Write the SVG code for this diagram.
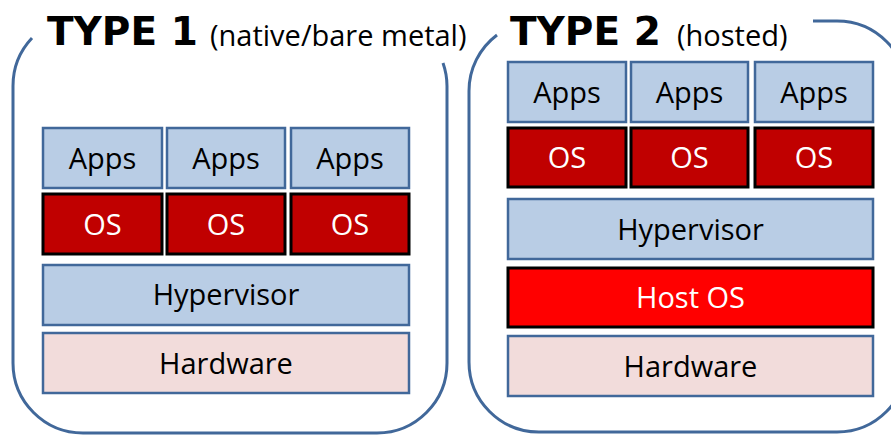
<svg xmlns="http://www.w3.org/2000/svg" width="891" height="435" viewBox="0 0 891 435">
  <style>
    .frame { fill: none; stroke: #41689A; stroke-width: 3; }
    .blue { fill: #B9CDE5; stroke: #41689A; stroke-width: 2.5; }
    .hw { fill: #F2DCDB; stroke: #41689A; stroke-width: 2.5; }
    .os { fill: #C00000; stroke: #000; stroke-width: 3; }
    .host { fill: #FF0000; stroke: #000; stroke-width: 3; }
    text { font-family: "Open Sans", "Noto Sans", "Liberation Sans", sans-serif; text-anchor: middle; }
    .lbl { font-size: 29px; fill: #000; }
    .lblw { font-size: 29px; fill: #fff; }
    .title { font-family: "DejaVu Sans", "Open Sans", sans-serif; font-size: 39px; font-weight: bold; text-anchor: start; fill: #000; }
    .sub { font-size: 29px; text-anchor: start; fill: #000; }
  </style>
  <rect width="891" height="435" fill="#fff"/>

  <!-- Type 1: native / bare metal -->
  <g id="type1">
    <path class="frame" d="M443,63 A70,70 0 0 1 447,86 V363 A70,70 0 0 1 377,433 H83 A70,70 0 0 1 13,363 V86 A70,70 0 0 1 32,38"/>
    <text x="47" y="45" class="title">TYPE 1</text>
    <text x="210" y="46" class="sub">(native/bare metal)</text>
  </g>
  <g id="t1-apps1"><rect class="blue" x="43" y="128" width="119" height="60"/><text class="lbl" x="102.5" y="169">Apps</text></g>
  <g id="t1-apps2"><rect class="blue" x="167" y="128" width="118" height="60"/><text class="lbl" x="226" y="169">Apps</text></g>
  <g id="t1-apps3"><rect class="blue" x="291" y="128" width="118" height="60"/><text class="lbl" x="350" y="169">Apps</text></g>
  <g id="t1-os1"><rect class="os" x="43" y="194" width="119" height="60"/><text class="lblw" x="102.5" y="235">OS</text></g>
  <g id="t1-os2"><rect class="os" x="167" y="194" width="118" height="60"/><text class="lblw" x="226" y="235">OS</text></g>
  <g id="t1-os3"><rect class="os" x="291" y="194" width="118" height="60"/><text class="lblw" x="350" y="235">OS</text></g>
  <g id="t1-hypervisor"><rect class="blue" x="43" y="265" width="366" height="60"/><text class="lbl" x="226" y="305">Hypervisor</text></g>
  <g id="t1-hardware"><rect class="hw" x="43" y="333" width="366" height="60"/><text class="lbl" x="226" y="374">Hardware</text></g>

  <!-- Type 2: hosted -->
  <g id="type2">
    <path class="frame" d="M813,21 H837 A70,70 0 0 1 907,91 V362 A70,70 0 0 1 837,432 H539 A70,70 0 0 1 469,362 V91 A70,70 0 0 1 497,35"/>
    <text x="510" y="45" class="title">TYPE 2</text>
    <text x="677" y="46" class="sub">(hosted)</text>
  </g>
  <g id="t2-apps1"><rect class="blue" x="508" y="62" width="118" height="60"/><text class="lbl" x="567" y="103">Apps</text></g>
  <g id="t2-apps2"><rect class="blue" x="631" y="62" width="117" height="60"/><text class="lbl" x="689.5" y="103">Apps</text></g>
  <g id="t2-apps3"><rect class="blue" x="755" y="62" width="118" height="60"/><text class="lbl" x="814" y="103">Apps</text></g>
  <g id="t2-os1"><rect class="os" x="508" y="128" width="118" height="59"/><text class="lblw" x="567" y="168">OS</text></g>
  <g id="t2-os2"><rect class="os" x="631" y="128" width="117" height="59"/><text class="lblw" x="689.5" y="168">OS</text></g>
  <g id="t2-os3"><rect class="os" x="755" y="128" width="118" height="59"/><text class="lblw" x="814" y="168">OS</text></g>
  <g id="t2-hypervisor"><rect class="blue" x="508" y="199" width="365" height="60"/><text class="lbl" x="690.5" y="240">Hypervisor</text></g>
  <g id="t2-hostos"><rect class="host" x="508" y="268" width="365" height="59"/><text class="lblw" x="690.5" y="308">Host OS</text></g>
  <g id="t2-hardware"><rect class="hw" x="508" y="336" width="365" height="60"/><text class="lbl" x="690.5" y="377">Hardware</text></g>

  <g id="connectors"/>
</svg>
